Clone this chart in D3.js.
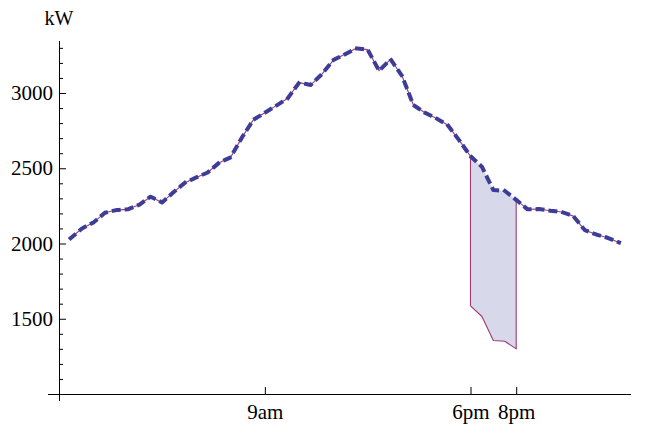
<!DOCTYPE html>
<html>
<head>
<meta charset="utf-8">
<script src="https://cdn.jsdelivr.net/npm/d3@7"></script>
<style>
  html, body { margin: 0; padding: 0; background: #fff; }
  svg { display: block; }
  text { font-family: "Liberation Serif", "DejaVu Serif", serif; fill: #000; }
</style>
</head>
<body>
<svg id="chart" width="646" height="426"></svg>
<script>
// Half-hourly demand over the day (hour of day, kW)
const hours = [0.5, 1, 1.5, 2, 2.5, 3, 3.5, 4, 4.5, 5, 5.5, 6, 6.5, 7, 7.5, 8, 8.5, 9, 9.5, 10,
  10.5, 11, 11.5, 12, 12.5, 13, 13.5, 14, 14.5, 15, 15.5, 16, 16.5, 17, 17.5, 18, 18.5, 19, 19.5, 20,
  20.5, 21, 21.5, 22, 22.5, 23, 23.5, 24, 24.5];
const load = [2035, 2100, 2140, 2204, 2222, 2227, 2257, 2311, 2273, 2340, 2404, 2439, 2472, 2537, 2572, 2705, 2822, 2869, 2916, 2965,
  3069, 3053, 3126, 3219, 3257, 3297, 3288, 3148, 3224, 3115, 2920, 2869, 2832, 2787, 2687, 2580, 2510, 2355, 2350, 2290,
  2227, 2229, 2218, 2209, 2182, 2089, 2060, 2038, 2007];

// Demand during the evening reduction window (6pm to 8pm)
const cutHours = [18, 18.5, 19, 19.5, 20];
const cutLoad = [1585, 1515, 1355, 1350, 1300];

// Axis ticks
const yTicks = [1500, 2000, 2500, 3000];
const xTickHours = [9, 18, 20];
const xTickLabels = ["9am", "6pm", "8pm"];

const svg = d3.select("#chart");
const x = d3.scaleLinear().domain([0, 24]).range([59.2, 607.6]);
const y = d3.scaleLinear().domain([1000, 3000]).range([394, 93]);

const blue = "#3d3d99", plum = "#993d71";
const pts = hours.map((h, i) => ({ h, v: load[i] }));
const cutStart = cutHours[0], cutEnd = cutHours[cutHours.length - 1];

// Shaded band between normal and reduced demand
const band = cutHours.map((h, i) => ({ h, lo: cutLoad[i], hi: load[hours.indexOf(h)] }));
svg.append("path")
  .datum(band)
  .attr("d", d3.area().x(d => x(d.h)).y0(d => y(d.lo)).y1(d => y(d.hi)))
  .attr("fill", "rgba(61,61,153,0.2)");

// Reduced demand profile: follows the load, dropping during the window
const reduced = [];
pts.forEach(p => {
  if (p.h < cutStart || p.h > cutEnd) reduced.push(p);
  if (p.h === cutStart) {
    reduced.push(p);
    cutHours.forEach((h, i) => reduced.push({ h, v: cutLoad[i] }));
  }
  if (p.h === cutEnd) reduced.push(p);
});
const line = d3.line().x(d => x(d.h)).y(d => y(d.v));
svg.append("path")
  .datum(reduced)
  .attr("d", line)
  .attr("fill", "none")
  .attr("stroke", plum)
  .attr("stroke-width", 1.1)
  .attr("stroke-linejoin", "round");

// Normal demand, dashed
svg.append("path")
  .datum(pts)
  .attr("d", line)
  .attr("fill", "none")
  .attr("stroke", blue)
  .attr("stroke-width", 4)
  .attr("stroke-dasharray", "5,8")
  .attr("stroke-linecap", "square")
  .attr("stroke-linejoin", "round");

// Axis lines
svg.append("line").attr("x1", 59.5).attr("x2", 59.5).attr("y1", 41).attr("y2", 401)
  .attr("stroke", "#000").attr("stroke-width", 1);
svg.append("line").attr("x1", 48).attr("x2", 631).attr("y1", 394.5).attr("y2", 394.5)
  .attr("stroke", "#000").attr("stroke-width", 1);

// Y axis ticks and labels
const yAxis = svg.append("g").attr("transform", "translate(59,0)")
  .call(d3.axisLeft(y).tickValues(yTicks).tickSizeInner(-7).tickSizeOuter(0).tickPadding(6).tickFormat(d3.format("d")));
const minor = d3.range(1100, 3400, 100).filter(v => !yTicks.includes(v));
const yMinor = svg.append("g").attr("transform", "translate(59,0)")
  .call(d3.axisLeft(y).tickValues(minor).tickSizeInner(-4).tickSizeOuter(0).tickFormat(""));

// X axis ticks and labels
const xAxis = svg.append("g").attr("transform", "translate(0,394)")
  .call(d3.axisBottom(x).tickValues(xTickHours).tickSizeInner(-7).tickSizeOuter(0).tickPadding(10)
    .tickFormat((d, i) => xTickLabels[i]));

[yAxis, yMinor, xAxis].forEach(g => {
  g.select(".domain").remove();
  g.selectAll("line").attr("stroke", "#000");
  g.selectAll("text").attr("font-family", null).attr("font-size", null).style("font-size", "21px").attr("fill", "#000");
});

// Unit label
svg.append("text").attr("x", 59).attr("y", 25).attr("text-anchor", "middle")
  .style("font-size", "20px").text("kW");
</script>
</body>
</html>
